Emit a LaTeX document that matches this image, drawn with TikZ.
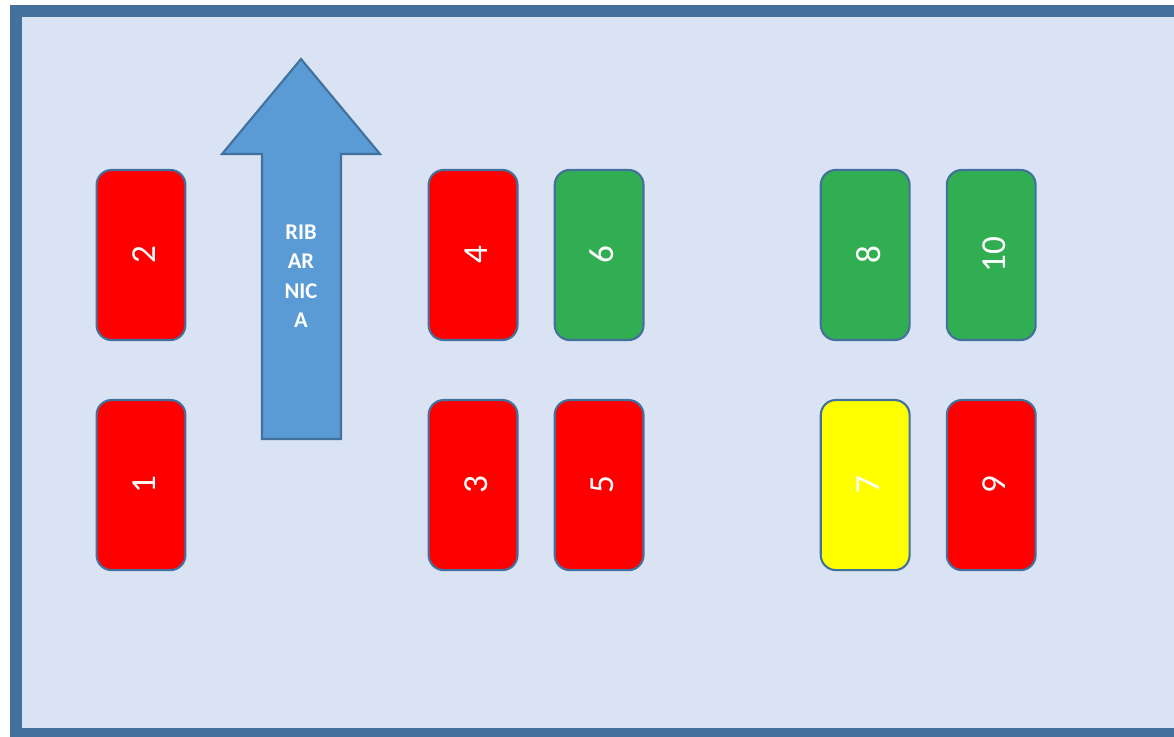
\documentclass[tikz,border=0pt]{standalone}
\usepackage{fontspec}
\setmainfont{Carlito}
\usetikzlibrary{positioning}
\definecolor{framebg}{RGB}{218,227,243}
\definecolor{frameline}{RGB}{65,113,156}
\definecolor{arrowblue}{RGB}{91,155,213}
\definecolor{slotred}{RGB}{255,0,0}
\definecolor{slotgreen}{RGB}{49,174,82}
\definecolor{slotyellow}{RGB}{255,255,0}
\tikzstyle{slot} = [rectangle, draw=frameline, line width=1.5pt, rounded corners=0.375cm, minimum width=2.22cm, minimum height=4.25cm, inner sep=0pt, text=white, font=\fontsize{25}{30}\selectfont]
\tikzstyle{redslot} = [slot, fill=slotred]
\tikzstyle{greenslot} = [slot, fill=slotgreen]
\tikzstyle{yellowslot} = [slot, fill=slotyellow]
\newcommand{\slotnum}[1]{\rotatebox{90}{\raisebox{-0.075cm}[\height][0pt]{#1}}}

\begin{document}
\begin{tikzpicture}[x=0.025cm, y=-0.025cm]
        \useasboundingbox (0,0) rectangle (1174,736);
        \clip (0,0) rectangle (1174,736);
        \draw[frameline, fill=framebg, line width=0.3cm] (16,11) rectangle (1200,734);

        % upper row
        \node[redslot] (b2) at (141,255) {\slotnum{2}};
        \node[redslot, right of=b2, node distance=8.3cm] (b4) {\slotnum{4}};
        \node[greenslot, right of=b4, node distance=3.15cm] (b6) {\slotnum{6}};
        \node[greenslot, right of=b6, node distance=6.65cm] (b8) {\slotnum{8}};
        \node[greenslot, right of=b8, node distance=3.15cm] (b10) {\slotnum{10}};

        % lower row
        \node[redslot, below of=b2, node distance=5.75cm] (b1) {\slotnum{1}};
        \node[redslot, below of=b4, node distance=5.75cm] (b3) {\slotnum{3}};
        \node[redslot, below of=b6, node distance=5.75cm] (b5) {\slotnum{5}};
        \node[yellowslot, below of=b8, node distance=5.75cm] (b7) {\slotnum{7}};
        \node[redslot, below of=b10, node distance=5.75cm] (b9) {\slotnum{9}};

        % arrow
        \draw[frameline, fill=arrowblue, line width=1.5pt] (301,59) -- (380,154) -- (341,154) -- (341,439)
            -- (262,439) -- (262,154) -- (222,154) -- cycle;
        \node[align=center, text=white, font=\bfseries\fontsize{16}{21}\selectfont] (arrtext) at (301,276) {RIB\\AR\\NIC\\A};

    \end{tikzpicture}
\end{document}
